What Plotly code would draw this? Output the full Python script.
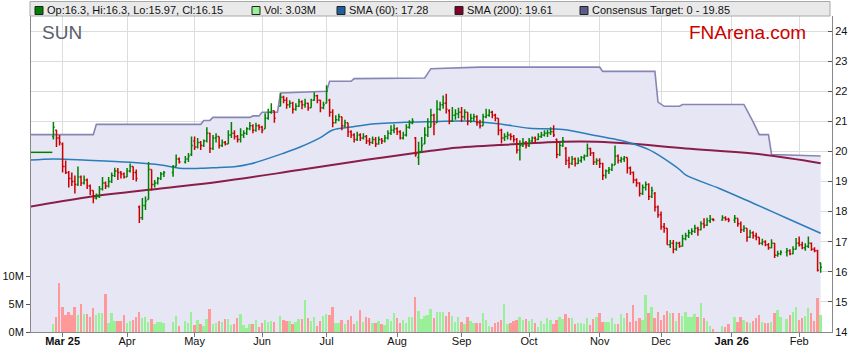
import plotly.graph_objects as go
import pandas as pd

# ---------------- DATA ----------------
holidays = ["2025-04-18", "2025-04-21", "2025-04-25", "2025-06-09",
            "2025-12-25", "2025-12-26", "2026-01-01", "2026-01-26"]

opens = [
    20.50, 20.70, 20.45,
    20.25, 19.50, 19.30, 19.10, 19.00, 18.90, 19.15, 18.95, 19.05, 18.85, 18.70, 18.45, 18.50, 18.75, 18.95, 18.85, 19.00, 19.20, 19.35, 19.30, 19.25,
    19.15, 19.35, 19.50, 19.30, 18.15, 17.80, 18.20, 18.40, 19.40, 18.90, 18.95, 19.10, 19.25, 19.30, 19.50, 19.75, 19.65, 19.75, 19.90,
    20.35, 20.15, 20.30, 20.20, 20.35, 20.60, 20.10, 20.45, 20.50, 20.20, 20.30, 20.25, 20.55, 20.60, 20.50, 20.40, 20.55, 20.60, 20.75, 20.85, 20.70, 20.85,
    20.80, 20.75, 21.10, 21.30, 21.35, 21.50, 21.80, 21.70, 21.55, 21.60, 21.40, 21.50, 21.65, 21.55, 21.60, 21.45, 21.70, 21.85, 21.70, 21.45,
    21.60, 21.70, 21.30, 20.95, 21.05, 21.15, 20.85, 20.95, 20.65, 20.55, 20.40, 20.55, 20.45, 20.50, 20.35, 20.30, 20.40, 20.25, 20.40, 20.35, 20.45, 20.60, 20.70,
    20.75, 20.65, 20.45, 20.55, 20.80, 20.95, 20.45, 19.80, 20.00, 20.25, 20.55, 20.80, 21.20, 20.95, 21.40, 21.55, 21.60, 21.35, 21.00, 21.20, 21.25,
    21.30, 21.15, 21.30, 21.00, 21.10, 21.15, 20.95, 20.85, 21.15, 21.20, 21.30, 21.20, 21.10, 20.70, 20.45, 20.50, 20.55, 20.50, 20.40, 20.05, 20.20, 20.30,
    20.20, 20.35, 20.45, 20.40, 20.50, 20.55, 20.60, 20.62, 20.65, 20.40, 19.90, 20.20, 20.10, 19.70, 19.60, 19.75, 19.60, 19.70, 19.80, 19.85, 20.10, 19.95, 19.65,
    19.70, 19.60, 19.20, 19.35, 19.40, 19.55, 19.85, 19.70, 19.75, 19.80, 19.45, 19.30, 19.05, 18.95, 18.60, 18.80, 18.90, 18.50, 18.60, 18.15,
    17.90, 17.50, 17.45, 16.90, 16.95, 16.75, 16.95, 16.85, 17.10, 17.20, 17.30, 17.35, 17.45, 17.40, 17.60, 17.55, 17.70, 17.75, 17.72, 17.80, 17.75,
    17.72, 17.78, 17.60, 17.40, 17.45, 17.15, 17.30, 17.20, 17.15, 16.95, 17.00, 16.90, 16.80, 16.95, 16.55, 16.60, 16.65, 16.70, 16.60, 16.75,
    16.95, 16.90, 16.80, 16.85, 16.95, 16.75, 16.70, 16.30,
]

highs = [
    20.98, 20.72, 20.55,
    20.30, 19.70, 19.35, 19.30, 19.20, 19.50, 19.20, 19.20, 19.10, 18.90, 18.70, 18.60, 18.85, 19.15, 19.00, 19.15, 19.30, 19.46, 19.45, 19.35, 19.30,
    19.45, 19.60, 19.50, 19.40, 18.20, 18.45, 18.50, 19.65, 19.40, 19.05, 19.15, 19.32, 19.35, 19.55, 19.90, 19.80, 19.85, 19.95, 20.50,
    20.50, 20.45, 20.35, 20.40, 20.80, 20.62, 20.55, 20.60, 20.50, 20.40, 20.35, 20.70, 20.98, 20.70, 20.55, 20.77, 20.70, 20.80, 20.98, 20.90, 20.95, 20.90,
    20.85, 21.27, 21.42, 21.60, 21.35, 21.93, 21.85, 21.80, 21.70, 21.65, 21.60, 21.75, 21.70, 21.75, 21.62, 21.75, 21.97, 21.88, 21.72, 21.65,
    22.20, 21.75, 21.40, 21.20, 21.25, 21.15, 21.05, 20.95, 20.70, 20.60, 20.65, 20.60, 20.60, 20.55, 20.45, 20.50, 20.48, 20.50, 20.45, 20.55, 20.70, 20.87, 20.90,
    20.80, 20.70, 20.65, 20.90, 21.04, 21.10, 20.48, 20.32, 20.48, 20.80, 21.10, 21.42, 21.25, 21.70, 21.65, 21.86, 21.92, 21.40, 21.48, 21.40, 21.45,
    21.48, 21.40, 21.30, 21.25, 21.25, 21.20, 21.05, 21.25, 21.42, 21.40, 21.35, 21.25, 21.10, 20.75, 20.60, 20.65, 20.60, 20.55, 20.45, 20.37, 20.45, 20.35,
    20.45, 20.50, 20.50, 20.60, 20.65, 20.70, 20.72, 20.80, 20.87, 20.43, 20.30, 20.48, 20.15, 19.82, 19.85, 19.80, 19.80, 19.85, 19.90, 20.26, 20.12, 19.98, 19.77,
    19.77, 19.62, 19.40, 19.48, 19.60, 20.20, 19.90, 19.82, 19.85, 19.80, 19.50, 19.33, 19.10, 18.98, 18.90, 19.00, 18.94, 18.83, 18.65, 18.20,
    18.00, 17.62, 17.45, 17.06, 17.06, 17.00, 17.00, 17.23, 17.30, 17.40, 17.45, 17.56, 17.50, 17.68, 17.78, 17.80, 17.89, 17.78, 17.88, 17.85, 17.80,
    17.89, 17.78, 17.67, 17.55, 17.45, 17.40, 17.35, 17.30, 17.15, 17.10, 17.05, 16.96, 17.08, 16.96, 16.70, 16.72, 16.79, 16.75, 16.85, 17.12,
    17.17, 17.00, 16.95, 17.17, 16.97, 16.82, 16.73, 16.30,
]

lows = [
    20.40, 20.15, 20.20,
    19.30, 19.25, 18.80, 18.85, 18.60, 18.85, 18.85, 18.90, 18.75, 18.55, 18.28, 18.40, 18.45, 18.70, 18.75, 18.80, 18.95, 19.15, 19.05, 19.10, 19.10,
    19.15, 19.30, 19.05, 19.00, 17.62, 17.72, 18.05, 18.40, 18.70, 18.80, 18.90, 19.05, 19.15, 19.16, 19.50, 19.60, 19.60, 19.65, 19.85,
    20.05, 20.10, 20.05, 20.15, 20.30, 19.95, 20.05, 20.30, 20.10, 20.15, 20.20, 20.25, 20.45, 20.40, 20.30, 20.30, 20.45, 20.55, 20.70, 20.60, 20.65, 20.70,
    20.60, 20.75, 21.05, 21.25, 20.95, 21.50, 21.60, 21.42, 21.45, 21.26, 21.35, 21.48, 21.40, 21.45, 21.35, 21.45, 21.68, 21.60, 21.30, 21.40,
    21.60, 21.15, 20.80, 20.93, 21.00, 20.70, 20.80, 20.48, 20.45, 20.30, 20.35, 20.35, 20.40, 20.25, 20.20, 20.25, 20.15, 20.22, 20.25, 20.30, 20.40, 20.55, 20.60,
    20.55, 20.40, 20.40, 20.50, 20.75, 20.90, 19.82, 19.55, 19.95, 20.25, 20.48, 20.80, 20.54, 20.95, 21.35, 21.42, 21.26, 20.90, 20.98, 21.05, 21.10,
    20.98, 21.05, 20.87, 20.95, 21.00, 20.85, 20.76, 20.85, 21.10, 21.15, 21.10, 21.00, 20.54, 20.26, 20.35, 20.40, 20.37, 20.30, 19.93, 19.70, 20.15, 20.10,
    20.15, 20.30, 20.30, 20.38, 20.45, 20.50, 20.48, 20.55, 20.48, 19.77, 19.85, 20.15, 19.55, 19.44, 19.55, 19.50, 19.58, 19.62, 19.70, 19.82, 19.85, 19.55, 19.55,
    19.45, 19.05, 19.10, 19.25, 19.35, 19.55, 19.60, 19.62, 19.65, 19.27, 19.22, 18.94, 18.83, 18.50, 18.55, 18.70, 18.39, 18.45, 18.00, 17.80,
    17.40, 17.30, 16.90, 16.79, 16.62, 16.70, 16.80, 16.84, 17.05, 17.12, 17.22, 17.29, 17.20, 17.38, 17.45, 17.52, 17.62, 17.68, 17.70, 17.70, 17.65,
    17.62, 17.50, 17.29, 17.32, 17.00, 17.12, 17.10, 17.05, 16.90, 16.88, 16.85, 16.73, 16.78, 16.46, 16.50, 16.55, 16.51, 16.55, 16.58, 16.74,
    16.84, 16.75, 16.70, 16.79, 16.70, 16.65, 16.01, 15.97,
]

closes = [
    20.80, 20.45, 20.30,
    19.50, 19.30, 19.10, 19.00, 18.90, 19.15, 18.95, 19.05, 18.85, 18.70, 18.45, 18.50, 18.75, 18.95, 18.85, 19.00, 19.20, 19.35, 19.30, 19.25, 19.15,
    19.35, 19.50, 19.30, 19.10, 17.80, 18.20, 18.35, 19.40, 18.90, 18.95, 19.10, 19.25, 19.30, 19.50, 19.75, 19.65, 19.75, 19.85, 20.20,
    20.15, 20.30, 20.20, 20.35, 20.60, 20.10, 20.45, 20.50, 20.20, 20.30, 20.25, 20.55, 20.60, 20.50, 20.40, 20.55, 20.60, 20.75, 20.85, 20.70, 20.85, 20.80,
    20.70, 21.10, 21.30, 21.35, 21.10, 21.80, 21.70, 21.55, 21.60, 21.40, 21.50, 21.65, 21.55, 21.60, 21.45, 21.70, 21.85, 21.70, 21.45, 21.55,
    22.00, 21.30, 20.95, 21.05, 21.15, 20.85, 20.95, 20.65, 20.55, 20.40, 20.55, 20.45, 20.50, 20.35, 20.30, 20.40, 20.25, 20.40, 20.35, 20.45, 20.60, 20.70, 20.75,
    20.65, 20.45, 20.55, 20.80, 20.95, 21.00, 19.90, 20.00, 20.20, 20.55, 20.80, 21.20, 20.90, 21.40, 21.55, 21.60, 21.40, 21.00, 21.20, 21.25, 21.30,
    21.15, 21.30, 21.00, 21.10, 21.15, 20.95, 20.85, 21.15, 21.20, 21.30, 21.20, 21.10, 20.70, 20.45, 20.50, 20.55, 20.50, 20.40, 20.05, 20.20, 20.30, 20.20,
    20.35, 20.45, 20.40, 20.50, 20.55, 20.60, 20.62, 20.65, 20.55, 19.90, 20.20, 20.35, 19.70, 19.60, 19.75, 19.60, 19.70, 19.80, 19.85, 20.10, 19.95, 19.65, 19.70,
    19.60, 19.20, 19.35, 19.40, 19.55, 19.85, 19.70, 19.75, 19.80, 19.45, 19.30, 19.05, 18.95, 18.60, 18.80, 18.90, 18.50, 18.70, 18.15, 17.90,
    17.50, 17.45, 16.90, 16.95, 16.75, 16.95, 16.85, 17.10, 17.20, 17.30, 17.35, 17.45, 17.40, 17.60, 17.55, 17.70, 17.75, 17.72, 17.80, 17.75, 17.72,
    17.78, 17.60, 17.40, 17.45, 17.15, 17.30, 17.20, 17.15, 16.95, 17.00, 16.90, 16.80, 16.95, 16.55, 16.60, 16.65, 16.70, 16.60, 16.75, 16.95,
    16.90, 16.80, 16.85, 16.95, 16.75, 16.70, 16.05, 16.15,
]

volume_m = [
    1.4, 2.7, 8.9,
    4.5, 3.0, 3.6, 3.0, 4.6, 3.0, 5.0, 3.2, 3.2, 2.7, 4.3, 3.0, 3.4, 3.4, 6.8, 1.6, 3.4, 2.0, 2.0, 2.0, 3.0,
    1.6, 2.0, 2.1, 2.7, 3.6, 2.5, 2.7, 1.8, 2.3, 1.4, 1.8, 1.8, 1.6, 1.8, 2.9, 1.1, 2.0, 1.6, 3.6,
    1.25, 2.1, 1.4, 1.1, 2.3, 4.1, 1.4, 1.6, 2.0, 1.8, 2.3, 2.3, 1.25, 1.4, 2.5, 3.2, 1.25, 0.7, 1.4, 1.4, 2.1, 0.9,
    1.6, 2.1, 1.8, 2.0, 1.8, 2.9, 2.1, 2.0, 2.0, 1.4, 1.8, 2.3, 2.3, 5.7, 2.5, 2.0, 2.7, 1.1, 2.0, 2.9,
    3.2, 3.0, 4.5, 1.6, 1.6, 2.1, 1.4, 2.1, 2.9, 1.4, 2.0, 3.9, 1.8, 2.7, 2.5, 1.6, 1.6, 2.0, 1.4, 1.25, 2.3, 2.0, 3.4,
    2.5, 1.6, 2.1, 1.6, 2.7, 2.7, 6.25, 3.75, 2.3, 2.9, 3.0, 4.1, 2.5, 3.6, 3.6, 3.6, 2.9, 3.6, 2.9, 1.8, 2.7,
    1.8, 1.4, 2.7, 2.0, 1.6, 1.6, 1.6, 3.4, 2.2, 1.1, 0.9, 1.6, 1.8, 2.2, 5.1, 1.4, 1.6, 2.0, 2.2, 2.7, 2.2, 2.3,
    2.0, 2.3, 1.6, 0.9, 2.0, 1.4, 2.5, 2.2, 1.4, 2.2, 2.7, 2.3, 3.25, 2.5, 2.5, 1.4, 1.6, 1.6, 1.4, 2.5, 1.25, 2.3, 2.7,
    3.4, 1.8, 1.8, 1.8, 2.5, 1.4, 1.4, 3.25, 2.5, 3.4, 1.8, 4.9, 2.0, 2.5, 2.2, 6.7, 3.4, 4.5, 2.5, 3.6,
    2.2, 3.1, 3.8, 3.4, 3.4, 2.0, 3.4, 2.9, 3.6, 2.7, 2.7, 3.25, 2.7, 5.2, 2.5, 2.0, 1.0, 0.55, 1.1, 0.9, 1.4,
    2.7, 1.8, 2.7, 2.2, 1.8, 1.6, 2.0, 2.5, 3.1, 1.8, 1.6, 1.6, 1.8, 3.4, 4.0, 2.7, 2.3, 3.1, 3.6, 4.5,
    2.2, 2.5, 2.9, 4.3, 3.4, 2.0, 6.1, 3.03,
]

sma60_dates = ["2025-02-14", "2025-02-26", "2025-03-13", "2025-04-02", "2025-04-16", "2025-04-24",
               "2025-05-05", "2025-05-13", "2025-05-20", "2025-05-27", "2025-06-11", "2025-06-18",
               "2025-06-27", "2025-07-03", "2025-07-11", "2025-07-18", "2025-08-04", "2025-08-19",
               "2025-09-02", "2025-09-17", "2025-10-01", "2025-10-16", "2025-10-31", "2025-11-12",
               "2025-11-17", "2025-11-25", "2025-11-27", "2025-12-02", "2025-12-09", "2025-12-11",
               "2025-12-26", "2026-01-12", "2026-01-27", "2026-02-11"]
sma60_vals = [19.69, 19.75, 19.71, 19.64, 19.55, 19.44,
              19.44, 19.47, 19.49, 19.58, 19.94, 20.13,
              20.46, 20.71, 20.81, 20.89, 20.96, 20.99,
              21.01, 20.92, 20.77, 20.73, 20.52, 20.36,
              20.28, 20.06, 19.95, 19.76, 19.40, 19.22,
              18.77, 18.28, 17.78, 17.28]

sma200_dates = ["2025-02-14", "2025-03-13", "2025-04-16", "2025-05-13", "2025-06-18", "2025-07-18",
                "2025-08-18", "2025-08-26", "2025-09-17", "2025-10-16", "2025-10-31", "2025-11-17",
                "2025-12-11", "2026-01-12", "2026-02-11"]
sma200_vals = [18.12, 18.48, 18.77, 18.99, 19.38, 19.72,
               20.02, 20.10, 20.21, 20.32, 20.32, 20.26,
               20.10, 19.93, 19.61]

target_dates = ["2025-02-14", "2025-03-17", "2025-03-18", "2025-05-05", "2025-05-06", "2025-05-08",
                "2025-05-09", "2025-05-27", "2025-05-28", "2025-05-30", "2025-06-02", "2025-06-09",
                "2025-06-10", "2025-06-25", "2025-07-01", "2025-07-02", "2025-07-11", "2025-07-14",
                "2025-08-14", "2025-08-18", "2025-09-09", "2025-11-03", "2025-11-04", "2025-11-27",
                "2025-11-28", "2025-12-02", "2025-12-09", "2025-12-10", "2026-01-07", "2026-01-12",
                "2026-01-14", "2026-01-19", "2026-01-20", "2026-02-11"]
target_vals = [20.56, 20.56, 20.90, 20.90, 21.03, 21.03,
               21.13, 21.13, 21.18, 21.18, 21.30, 21.30,
               21.94, 22.00, 22.00, 22.33, 22.33, 22.42,
               22.44, 22.75, 22.80, 22.80, 22.66, 22.66,
               21.64, 21.50, 21.50, 21.56, 21.56, 20.98,
               20.56, 20.56, 19.90, 19.85]
target_low = 0

prior_dates = ["2025-02-14", "2025-02-25 16:00"]
prior_vals = [19.97, 19.97]

month_ticks = ["2025-03-03", "2025-04-01", "2025-05-01", "2025-06-02", "2025-07-01", "2025-08-01",
               "2025-09-01", "2025-10-01", "2025-11-03", "2025-12-01", "2026-01-01", "2026-02-02"]
month_labels = ["<b>Mar 25</b>", "Apr", "May", "Jun", "Jul", "Aug",
                "Sep", "Oct", "Nov", "Dec", "<b>Jan 26</b>", "Feb"]
price_ticks = [14, 15, 16, 17, 18, 19, 20, 21, 22, 23, 24]
vol_ticks_m = [0, 5, 10]

# ---------------- BUILD ----------------
HALF_DAY = pd.Timedelta(hours=12)


def mid(seq):
    # place each trading day in the middle of its weekday slot
    return [pd.Timestamp(d) + HALF_DAY for d in seq]


dates = [d for d in pd.bdate_range("2025-02-26", "2026-02-11")
         if d.strftime("%Y-%m-%d") not in holidays]
n = len(dates)
assert n == len(opens) == len(highs) == len(lows) == len(closes) == len(volume_m), (n, len(closes))
xd = mid(dates)

GREEN, RED = "#008000", "#CC0000"
VGREEN, VRED, VGRAY = "#99F099", "#FF9999", "#888888"

direction = []
for i in range(n):
    if i == 0:
        direction.append(1)
    else:
        d = closes[i] - closes[i - 1]
        direction.append(1 if d > 1e-9 else (-1 if d < -1e-9 else 0))

vol_colors = [VGREEN if d > 0 else (VRED if d < 0 else VGRAY) for d in direction]

W, H = 859, 363
PL, PR, PT, PB = 31, 832, 16, 332
PRICE_RANGE = [14, 24.5]


def px(x):
    return (x - PL) / (PR - PL)


def py(y):
    return (PB - y) / (PB - PT)


fig = go.Figure()

# base layer (y): consensus band and moving averages
fig.add_trace(go.Scatter(
    x=mid(target_dates), y=target_vals, mode="lines",
    line=dict(color="#8686B4", width=1.6),
    fill="tozeroy", fillcolor="#E6E6F5", hoverinfo="skip", yaxis="y"))
fig.add_trace(go.Scatter(
    x=mid(sma200_dates), y=sma200_vals, mode="lines", line_shape="spline",
    line=dict(color="#8B1E48", width=2), hoverinfo="skip", yaxis="y"))
fig.add_trace(go.Scatter(
    x=mid(sma60_dates), y=sma60_vals, mode="lines", line_shape="spline",
    line=dict(color="#2B7CBA", width=1.5), hoverinfo="skip", yaxis="y"))

# volume (y2)
fig.add_trace(go.Bar(
    x=xd, y=[v * 1e6 for v in volume_m], marker=dict(color=vol_colors, line=dict(width=0)),
    width=0.62 * 86400000, hoverinfo="skip", yaxis="y2"))

# price bars on top (y3, same scale as y)
fig.add_trace(go.Scatter(
    x=mid(prior_dates), y=prior_vals, mode="lines",
    line=dict(color=GREEN, width=1.5), hoverinfo="skip", yaxis="y3"))
for sign, col in ((1, GREEN), (-1, RED)):
    idx = [i for i in range(n) if (direction[i] >= 0) == (sign > 0)]
    fig.add_trace(go.Ohlc(
        x=[xd[i] for i in idx],
        open=[opens[i] for i in idx], high=[highs[i] for i in idx],
        low=[lows[i] for i in idx], close=[closes[i] for i in idx],
        increasing=dict(line=dict(color=col, width=1.5)),
        decreasing=dict(line=dict(color=col, width=1.5)),
        tickwidth=0.42, hoverinfo="skip", yaxis="y3"))

shapes = [dict(type="rect", xref="paper", yref="paper",
               x0=px(30), x1=px(830), y0=py(16), y1=py(1.5),
               fillcolor="#E9E9E9", line=dict(color="#A8A8A8", width=1), layer="above")]
legend_items = [
    (35, GREEN, "Op:%g, Hi:%g, Lo:%g, Cl:%g" % (opens[-1], highs[-1], lows[-1], closes[-1])),
    (252, VGREEN, "Vol: %.2fM" % volume_m[-1]),
    (337, "#1F5F9F", "SMA (60): %.2f" % sma60_vals[-1]),
    (455, "#800028", "SMA (200): %.2f" % sma200_vals[-1]),
    (580, "#5C5C8C", "Consensus Target: %g - %.2f" % (target_low, target_vals[-1])),
]
annotations = []
for x0, col, txt in legend_items:
    shapes.append(dict(type="rect", xref="paper", yref="paper",
                       x0=px(x0), x1=px(x0 + 8), y0=py(14.5), y1=py(6.5),
                       fillcolor=col, line=dict(color="#222222", width=1), layer="above"))
    annotations.append(dict(xref="paper", yref="paper", x=px(x0 + 10), y=py(10.5),
                            xanchor="left", yanchor="middle", text=txt, showarrow=False,
                            font=dict(size=11, color="#111111")))

annotations.append(dict(xref="paper", yref="paper", x=px(40), y=py(32),
                        xanchor="left", yanchor="middle", text="SUN", showarrow=False,
                        font=dict(size=19, color="#59606B")))
annotations.append(dict(xref="paper", yref="paper", x=px(808), y=py(32),
                        xanchor="right", yanchor="middle", text="FNArena.com", showarrow=False,
                        font=dict(size=19, color="#CC0000")))

fig.update_layout(
    width=W, height=H,
    margin=dict(l=PL, r=W - PR, t=PT, b=H - PB, pad=0, autoexpand=False),
    paper_bgcolor="white", plot_bgcolor="white",
    showlegend=False,
    font=dict(family="Liberation Sans, Arial, sans-serif", size=11, color="#111111"),
    xaxis=dict(
        type="date",
        range=["2025-02-17 04:48", "2026-02-17 04:48"],
        rangebreaks=[dict(bounds=["sat", "mon"])],
        tickmode="array", tickvals=mid(month_ticks), ticktext=month_labels, tickangle=0,
        showgrid=True, gridcolor="#DCDCDC", gridwidth=1,
        ticks="outside", ticklen=4, tickcolor="#777777",
        showline=True, linecolor="#888888", linewidth=1,
        zeroline=False, rangeslider=dict(visible=False), automargin=False,
        ticklabelstandoff=-5,
        tickfont=dict(size=11, color="#111111"),
    ),
    yaxis=dict(
        side="right", range=PRICE_RANGE,
        tickmode="array", tickvals=price_ticks,
        showgrid=True, gridcolor="#DCDCDC", gridwidth=1,
        ticks="inside", ticklen=4, tickcolor="#555555",
        showline=True, linecolor="#888888", linewidth=1,
        zeroline=False, automargin=False, tickfont=dict(size=11, color="#111111"),
    ),
    yaxis2=dict(
        overlaying="y", side="left", range=[0, 57e6],
        tickmode="array", tickvals=[v * 1e6 for v in vol_ticks_m],
        ticktext=["%dM" % v for v in vol_ticks_m],
        showgrid=False, zeroline=False,
        ticks="outside", ticklen=4, tickcolor="#555555",
        showline=True, linecolor="#888888", linewidth=1, automargin=False,
        tickfont=dict(size=11, color="#111111"),
    ),
    yaxis3=dict(
        overlaying="y", side="right", range=PRICE_RANGE, visible=False,
        showgrid=False, zeroline=False, automargin=False,
    ),
    shapes=shapes, annotations=annotations,
    bargap=0,
)

fig.write_html("out.html", config={"displayModeBar": False},
               post_script="document.body.style.margin='0px';")
